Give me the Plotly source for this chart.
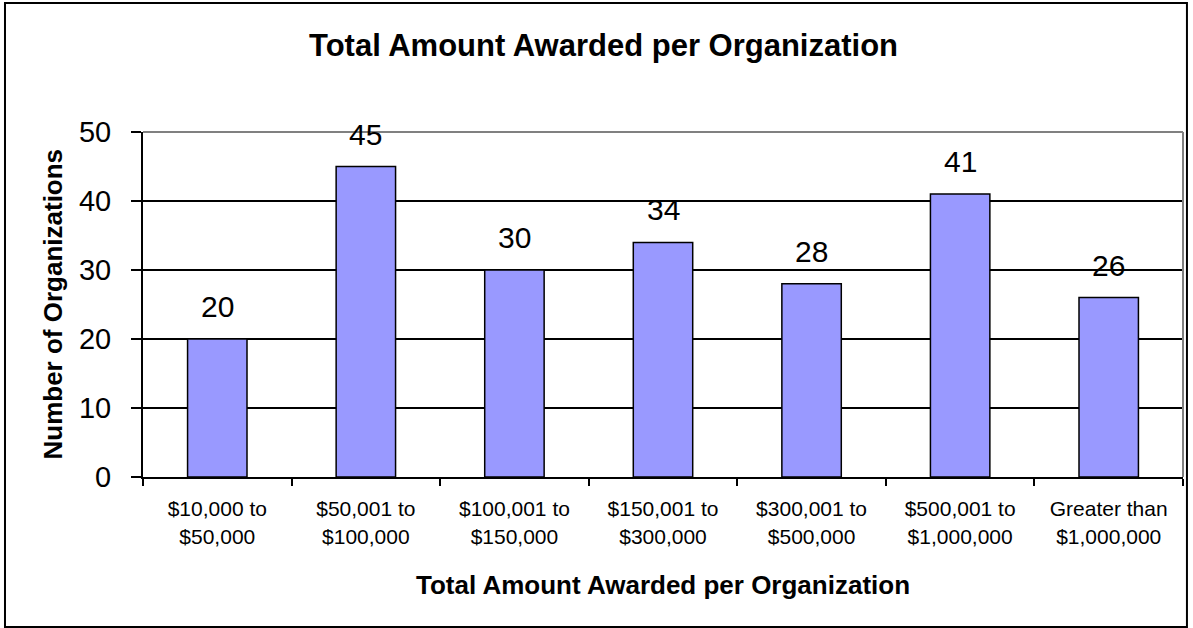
import plotly.graph_objects as go

# ---- data ----
categories = [
    "$10,000 to<br>$50,000",
    "$50,001 to<br>$100,000",
    "$100,001 to<br>$150,000",
    "$150,001 to<br>$300,000",
    "$300,001 to<br>$500,000",
    "$500,001 to<br>$1,000,000",
    "Greater than<br>$1,000,000",
]
counts = [20, 45, 30, 34, 28, 41, 26]

chart_title = "Total Amount Awarded per Organization"
x_title = "Total Amount Awarded per Organization"
y_title = "Number of Organizations"

FONT = "Arial, Liberation Sans, sans-serif"

fig = go.Figure()
fig.add_trace(go.Bar(
    x=categories,
    y=counts,
    width=0.4,
    marker=dict(color="#9999FF", line=dict(color="black", width=1.5)),
    showlegend=False,
    hoverinfo="x+y",
))

# value labels above bars
for c, v in zip(categories, counts):
    fig.add_annotation(x=c, y=v, text=str(v), showarrow=False,
                       yanchor="bottom", yshift=14,
                       font=dict(family=FONT, size=30, color="black"))

# titles
fig.add_annotation(xref="paper", yref="paper", x=0.443, y=1.252,
                   text="<b>%s</b>" % chart_title, showarrow=False,
                   xanchor="center", yanchor="middle",
                   font=dict(family=FONT, size=31, color="black"))
fig.add_annotation(xref="paper", yref="paper", x=0.5, y=-0.313,
                   text="<b>%s</b>" % x_title, showarrow=False,
                   xanchor="center", yanchor="middle",
                   font=dict(family=FONT, size=26, color="black"))
fig.add_annotation(xref="paper", yref="paper", x=-0.0875, y=0.5,
                   text="<b>%s</b>" % y_title, showarrow=False, textangle=-90,
                   xanchor="center", yanchor="middle",
                   font=dict(family=FONT, size=26, color="black"))

fig.update_layout(
    width=1193, height=628,
    margin=dict(l=143, r=10, t=132, b=151),
    paper_bgcolor="white",
    plot_bgcolor="white",
    bargap=0.6,
    font=dict(family=FONT, color="black"),
    shapes=[
        # chart area border
        dict(type="rect", xref="paper", yref="paper",
             x0=-0.1327, x1=1.0038, y0=-0.4348, y1=1.3739,
             line=dict(color="black", width=2), layer="below"),
        # plot area border (top/right, grey)
        dict(type="line", xref="paper", yref="paper", x0=0, x1=1, y0=1, y1=1,
             line=dict(color="#808080", width=2), layer="above"),
        dict(type="line", xref="paper", yref="paper", x0=1, x1=1, y0=0, y1=1,
             line=dict(color="#808080", width=2), layer="above"),
    ],
)

fig.update_xaxes(
    tickson="boundaries",
    ticks="outside", ticklen=7, tickwidth=2, tickcolor="black",
    showline=True, linecolor="black", linewidth=2,
    showgrid=False,
    tickfont=dict(family=FONT, size=21, color="black"),
    ticklabelstandoff=12,
    fixedrange=True,
)
fig.update_yaxes(
    range=[0, 50], dtick=10,
    ticks="outside", ticklen=10, tickwidth=2, tickcolor="black",
    showline=True, linecolor="black", linewidth=2,
    showgrid=True, gridcolor="black", gridwidth=2,
    zeroline=False,
    tickfont=dict(family=FONT, size=29, color="black"),
    ticklabelstandoff=14,
    fixedrange=True,
)

# drop the default page margin so the chart sits at the window origin
fig.write_html("out.html", config={"displayModeBar": False},
               post_script="document.body.style.margin='0';")
